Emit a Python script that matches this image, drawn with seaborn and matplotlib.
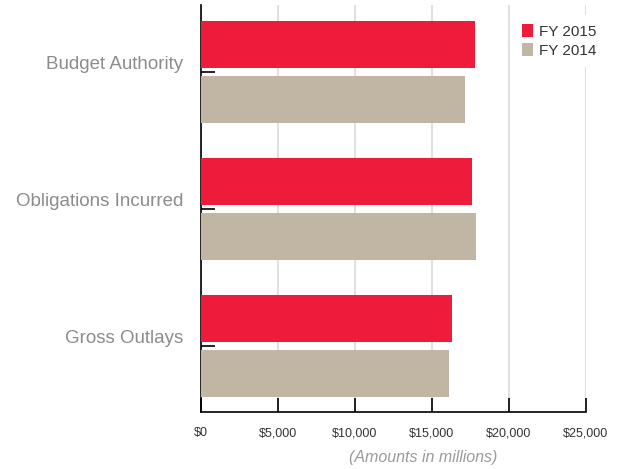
import matplotlib
matplotlib.use("Agg")
import matplotlib.pyplot as plt
import matplotlib.transforms as mtransforms
import seaborn as sns
import pandas as pd

categories = ["Budget Authority", "Obligations Incurred", "Gross Outlays"]
fy2015 = [17800, 17600, 16300]
fy2014 = [17150, 17850, 16100]
series_names = ["FY 2015", "FY 2014"]
xticks = [0, 5000, 10000, 15000, 20000, 25000]
xtick_labels = ["$0", "$5,000", "$10,000", "$15,000", "$20,000", "$25,000"]

df = pd.DataFrame({
    "category": categories * 2,
    "value": fy2015 + fy2014,
    "series": [series_names[0]] * 3 + [series_names[1]] * 3,
})

sns.set_theme(style="white")
plt.rcParams["font.family"] = ["Liberation Sans", "DejaVu Sans"]

fig = plt.figure(figsize=(6.18, 4.69), dpi=100)
ax = fig.add_axes([201 / 618, 1 - 412 / 469, 385 / 618, 407 / 469])

palette = {"FY 2015": "#EE1B3B", "FY 2014": "#C1B6A4"}
sns.barplot(data=df, y="category", x="value", hue="series", orient="h",
            palette=palette, width=0.8, gap=0.14, ax=ax, saturation=1,
            edgecolor="none", linewidth=0, zorder=3)

ax.set_xlim(0, 25000)
ax.set_ylim(2.48, -0.49)
ax.set_xticks(xticks)
ax.set_xticklabels(xtick_labels, fontsize=9, color="#333333")
ax.set_yticks(range(len(categories)))
ax.set_yticklabels(categories, fontsize=13.5, color="#8c8c8c")
ax.set_ylabel("")
ax.set_xlabel("(Amounts in millions)", fontsize=11.5, color="#9a9a9a",
              style="italic")
ax.xaxis.set_label_coords(0.578, -0.094)

ax.tick_params(axis="x", direction="in", length=10, width=1.2, color="black",
               pad=11, bottom=True)
ax.tick_params(axis="y", direction="in", length=10, width=1.2, color="black",
               pad=13, left=True)

offset = mtransforms.ScaledTranslation(0, 0.1, fig.dpi_scale_trans)
for lbl in ax.get_yticklabels():
    lbl.set_transform(lbl.get_transform() + offset)

for s in ["top", "right"]:
    ax.spines[s].set_visible(False)
for s in ["left", "bottom"]:
    ax.spines[s].set_visible(True)
    ax.spines[s].set_color("black")
    ax.spines[s].set_linewidth(1.2)

ax.grid(axis="x", color="#e2e0dc", linewidth=1.5, zorder=0)
ax.set_axisbelow(True)

leg = ax.legend(loc="upper left", bbox_to_anchor=(0.81, 0.976), frameon=True,
                fontsize=11, handlelength=0.75, handleheight=0.9,
                handletextpad=0.35, labelspacing=0.3, borderpad=0.6,
                borderaxespad=0)
leg.get_frame().set_facecolor("white")
leg.get_frame().set_edgecolor("none")
leg.get_frame().set_alpha(1)
for t in leg.get_texts():
    t.set_color("#333333")

fig.savefig("out.png", dpi=100)
